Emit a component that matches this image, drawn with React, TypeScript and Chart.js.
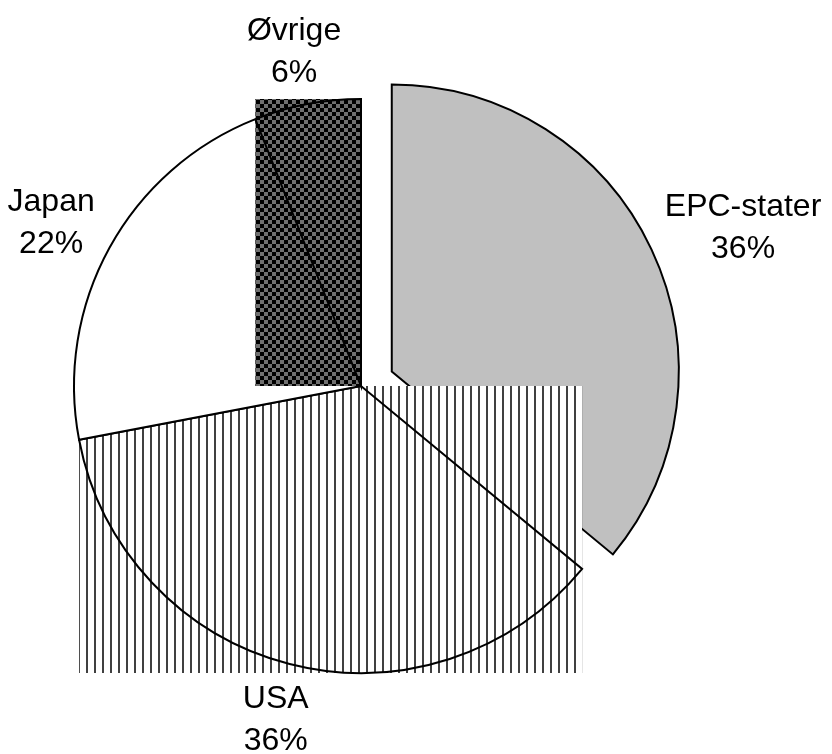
import React, { useEffect, useRef } from 'react';
import { Chart, registerables } from 'chart.js';

Chart.register(...registerables);

const categories = ['EPC-stater', 'USA', 'Japan', 'Øvrige'];
const shares = [36, 36, 22, 6];
const percentLabels = ['36%', '36%', '22%', '6%'];

function makeChecker(): CanvasPattern | string {
  const c = document.createElement('canvas');
  c.width = 8;
  c.height = 8;
  const g = c.getContext('2d');
  if (!g) return '#333';
  g.fillStyle = '#000000';
  g.fillRect(0, 0, 8, 8);
  g.fillStyle = '#707070';
  g.fillRect(0, 0, 4, 4);
  g.fillRect(4, 4, 4, 4);
  return g.createPattern(c, 'repeat') || '#333';
}

function makeStripes(): CanvasPattern | string {
  const c = document.createElement('canvas');
  c.width = 8;
  c.height = 8;
  const g = c.getContext('2d');
  if (!g) return '#888';
  g.fillStyle = '#ffffff';
  g.fillRect(0, 0, 8, 8);
  g.fillStyle = '#404040';
  g.fillRect(6, 0, 2, 8);
  return g.createPattern(c, 'repeat') || '#888';
}

export default function App() {
  const ref = useRef<HTMLCanvasElement | null>(null);

  useEffect(() => {
    if (!ref.current) return;
    const prevMargin = document.body.style.margin;
    document.body.style.margin = '0';
    const checker = makeChecker();
    const stripes = makeStripes();
    // per-slice settings (style only)
    const explode = [34, 0, 0, 0];
    const boxFill: (CanvasPattern | string | null)[] = [null, stripes, null, checker];
    const labelGap = 23;
    const lineStep = 42;
    const fontPx = 32;
    const capH = fontPx * 0.716;

    const geom = (el: any, i: number) => {
      const p = el.getProps(['x', 'y', 'startAngle', 'endAngle', 'outerRadius'], true);
      const mid = (p.startAngle + p.endAngle) / 2;
      const s = explode[i] || 0;
      return { ...p, mid, cx: p.x + Math.cos(mid) * s, cy: p.y + Math.sin(mid) * s };
    };

    const excelPie = {
      id: 'excelPie',
      beforeDatasetDraw(chart: any, args: any) {
        const ctx: CanvasRenderingContext2D = chart.ctx;
        const meta = args.meta;
        meta.data.forEach((el: any, i: number) => {
          const p = geom(el, i);
          ctx.save();
          ctx.translate(p.cx - p.x, p.cy - p.y);
          const box = boxFill[i];
          if (box) {
            const xs = [p.x];
            const ys = [p.y];
            const add = (a: number) => {
              xs.push(p.x + Math.cos(a) * p.outerRadius);
              ys.push(p.y + Math.sin(a) * p.outerRadius);
            };
            add(p.startAngle);
            add(p.endAngle);
            const q = Math.PI / 2;
            for (let k = Math.ceil(p.startAngle / q - 1e-6); k * q <= p.endAngle + 1e-6; k++) add(k * q);
            const x0 = Math.min(...xs);
            const x1 = Math.max(...xs);
            const y0 = Math.min(...ys);
            const y1 = Math.max(...ys);
            ctx.fillStyle = box as any;
            ctx.fillRect(x0, y0, x1 - x0, y1 - y0);
          }
          el.draw(ctx, chart.chartArea);
          ctx.restore();
        });
        return false;
      },
      afterDatasetsDraw(chart: any) {
        const ctx: CanvasRenderingContext2D = chart.ctx;
        const meta = chart.getDatasetMeta(0);
        ctx.save();
        ctx.font = `${fontPx}px "Liberation Sans", Arial, sans-serif`;
        ctx.fillStyle = '#000000';
        ctx.textAlign = 'center';
        ctx.textBaseline = 'alphabetic';
        meta.data.forEach((el: any, i: number) => {
          const p = geom(el, i);
          const dx = Math.cos(p.mid);
          const dy = Math.sin(p.mid);
          const r = p.outerRadius + labelGap;
          const ax = p.cx + dx * r;
          const ay = p.cy + dy * r;
          const lines = [categories[i], percentLabels[i]];
          const hw = Math.max(...lines.map((t) => ctx.measureText(t).width)) / 2;
          const hh = (capH + lineStep) / 2;
          const bx = ax + dx * hw;
          const by = ay + dy * hh;
          const top = by - hh;
          lines.forEach((t, j) => {
            ctx.fillText(t, bx, top + capH + j * lineStep);
          });
        });
        ctx.restore();
      },
    };

    const chart = new Chart(ref.current, {
      type: 'pie',
      data: {
        labels: categories,
        datasets: [
          {
            data: shares,
            backgroundColor: ['#c0c0c0', 'rgba(0,0,0,0)', '#ffffff', 'rgba(0,0,0,0)'],
            borderColor: '#000000',
            borderWidth: 2,
            borderJoinStyle: 'miter',
            radius: 287,
          } as any,
        ],
      },
      options: {
        responsive: false,
        animation: false,
        events: [],
        layout: { padding: { left: 0, right: 110, top: 18, bottom: 0 } },
        plugins: {
          legend: { display: false },
          tooltip: { enabled: false },
          title: { display: false },
        },
      },
      plugins: [excelPie as any],
    });
    return () => {
      chart.destroy();
      document.body.style.margin = prevMargin;
    };
  }, []);

  return (
    <div style={{ width: 832, height: 754, overflow: 'hidden' }}>
      <canvas ref={ref} width={832} height={754} style={{ display: 'block' }} />
    </div>
  );
}
